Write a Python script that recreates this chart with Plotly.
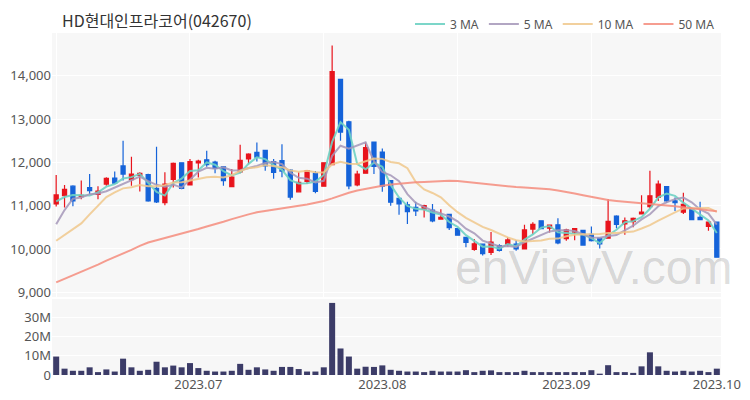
import pandas as pd
import plotly.graph_objects as go

# ---------------- data ----------------
holidays = ["2023-08-15", "2023-09-28", "2023-09-29", "2023-10-02", "2023-10-03"]
dates = [d.strftime("%Y-%m-%d") for d in pd.bdate_range("2023-06-08", "2023-10-04", freq="C", holidays=holidays)]

opens = [11040, 11230, 11450, 11210, 11420, 11260, 11500, 11640, 11920, 11600,
         11700, 11720, 11400, 11070, 11610, 11990, 11480, 11990, 12060, 12010,
         11900, 11440, 11780, 12080, 12230, 12280, 12020, 12040, 11820, 11320,
         11560, 11750, 11450, 11950, 13920, 12940, 11480, 11750, 12470, 12240,
         11580, 11170, 11020, 10960, 10920, 10900, 10690, 10800, 10470, 10270,
         9990, 10110, 9920, 10080, 10110, 10110, 10000, 10460, 10650, 10480,
         10560, 10240, 10390, 10430, 10340, 10250, 10250, 10760, 10580, 10630,
         10810, 10980, 11190, 11440, 11110, 10850, 10920, 10730, 10520, 10620]
highs = [11710, 11480, 11470, 11580, 11730, 11450, 11660, 11790, 12500, 12130,
         11770, 11740, 12360, 11770, 12000, 12000, 12080, 12060, 12270, 12040,
         11920, 11850, 12410, 12210, 12460, 12290, 12080, 12420, 11840, 11770,
         11820, 11800, 12000, 14700, 13930, 12960, 11810, 12460, 12480, 12320,
         11590, 11180, 11090, 11090, 11020, 11040, 10920, 10810, 10480, 10270,
         10230, 10120, 10390, 10110, 10270, 10210, 10560, 10620, 10660, 10560,
         10710, 10470, 10480, 10440, 10520, 10260, 11150, 10780, 10730, 10730,
         11240, 11810, 11580, 11450, 11190, 11300, 10930, 11090, 10630, 10630]
lows = [10980, 10960, 10990, 11150, 11270, 11150, 11460, 11500, 11580, 11460,
        11330, 11090, 11060, 11010, 11420, 11380, 11470, 11650, 11900, 11750,
        11460, 11430, 11750, 11960, 12020, 11810, 11620, 11660, 11140, 11310,
        11500, 11290, 11440, 11940, 12500, 11380, 11450, 11740, 11730, 11320,
        11000, 10790, 10580, 10760, 10730, 10620, 10680, 10440, 10310, 10040,
        9960, 9850, 9860, 9940, 10060, 9960, 9990, 10340, 10460, 10380,
        10110, 10190, 10200, 10080, 10170, 10010, 10240, 10480, 10330, 10500,
        10800, 10930, 11110, 11070, 10880, 10810, 10670, 10680, 10420, 9800]
closes = [11250, 11380, 11110, 11240, 11350, 11340, 11630, 11520, 11730, 11730,
          11750, 11110, 11090, 11500, 11980, 11400, 12020, 12030, 11950, 11860,
          11580, 11660, 12050, 12190, 12120, 11920, 11770, 11800, 11200, 11540,
          11810, 11330, 11990, 14100, 12700, 11460, 11730, 12340, 11910, 11450,
          11080, 11040, 10860, 10880, 11000, 10650, 10730, 10490, 10320, 10150,
          10120, 9890, 10160, 9970, 10210, 10000, 10440, 10570, 10470, 10550,
          10140, 10440, 10470, 10090, 10190, 10120, 10640, 10570, 10650, 10710,
          10850, 11230, 11500, 11110, 11070, 11030, 10680, 10680, 10620, 9810]
volumes_m = [9.6, 3.3, 2.2, 2.2, 4.0, 1.5, 2.9, 1.8, 8.5, 4.0,
             2.2, 2.7, 6.9, 4.0, 4.9, 4.0, 6.2, 3.6, 2.2, 1.8,
             1.8, 2.2, 5.8, 2.7, 4.0, 2.9, 2.2, 4.2, 4.2, 3.1,
             1.8, 1.8, 4.0, 37.5, 13.8, 9.6, 3.3, 4.3, 4.2, 5.0,
             2.7, 2.2, 1.8, 1.8, 1.5, 2.2, 1.8, 1.8, 1.8, 2.5,
             1.5, 2.2, 2.4, 1.5, 1.5, 1.5, 2.2, 1.5, 1.5, 1.5,
             1.5, 1.5, 1.5, 1.5, 2.5, 0.7, 5.1, 1.5, 1.5, 1.1,
             4.5, 11.8, 4.5, 2.2, 1.8, 2.2, 1.8, 2.2, 1.5, 3.3]

# moving-average values at the start of the window (need earlier data)
ma3_head = [11100, 11200]
ma5_head = [10570, 10900, 11160, 11190]
ma10_head = [10190, 10330, 10460, 10590, 10800, 11000, 11200, 11310, 11400]
ma50 = [9230, 9310, 9390, 9480, 9560, 9640, 9730, 9810, 9900, 9980,
        10070, 10150, 10200, 10250, 10300, 10350, 10410, 10460, 10520, 10570,
        10630, 10690, 10750, 10800, 10850, 10880, 10910, 10930, 10960, 10990,
        11030, 11070, 11110, 11170, 11240, 11300, 11350, 11390, 11430, 11460,
        11490, 11510, 11525, 11540, 11550, 11560, 11570, 11575, 11570, 11550,
        11525, 11495, 11475, 11460, 11445, 11430, 11420, 11410, 11400, 11380,
        11350, 11320, 11280, 11240, 11200, 11160, 11130, 11110, 11095, 11080,
        11065, 11050, 11030, 11005, 10985, 10960, 10935, 10910, 10890, 10870]

month_tick_dates = ["2023-07-03", "2023-08-02", "2023-09-04", "2023-10-04"]
month_tick_text = ["2023.07", "2023.08", "2023.09", "2023.10"]
price_ticks = [9000, 10000, 11000, 12000, 13000, 14000]
vol_ticks = [0, 10_000_000, 20_000_000, 30_000_000]
vol_tick_text = ["0", "10M", "20M", "30M"]

# ---------------- derived ----------------
c = pd.Series(closes, dtype=float)


def ma(n, head):
    s = c.rolling(n).mean()
    s.iloc[:len(head)] = head
    return s.tolist()


ma3 = ma(3, ma3_head)
ma5 = ma(5, ma5_head)
ma10 = ma(10, ma10_head)
volumes = [v * 1e6 for v in volumes_m]

RED = "#e8141c"
BLUE = "#1563d9"
FONT = "Noto Sans"
TICKFONT = dict(family=FONT, size=13, color="#555555")

fig = go.Figure()
fig.add_trace(go.Candlestick(
    x=dates, open=opens, high=highs, low=lows, close=closes,
    increasing=dict(line=dict(color=RED, width=1.2), fillcolor=RED),
    decreasing=dict(line=dict(color=BLUE, width=1.2), fillcolor=BLUE),
    whiskerwidth=0, showlegend=False, hoverinfo="skip",
    xaxis="x", yaxis="y"))

for name, vals, col in [("3 MA", ma3, "rgba(110,210,195,0.9)"),
                        ("5 MA", ma5, "rgba(165,150,185,0.85)"),
                        ("10 MA", ma10, "rgba(240,200,140,0.85)"),
                        ("50 MA", ma50, "rgba(245,140,125,0.85)")]:
    fig.add_trace(go.Scatter(x=dates, y=vals, mode="lines", name=name,
                             line=dict(color=col, width=2), hoverinfo="skip",
                             xaxis="x", yaxis="y"))

fig.add_trace(go.Bar(x=dates, y=volumes, marker=dict(color="#3c3c68", line=dict(width=0)),
                     showlegend=False, hoverinfo="skip", xaxis="x2", yaxis="y2"))

fig.update_layout(
    width=750, height=400,
    margin=dict(l=52, r=29, t=33, b=25, autoexpand=False),
    paper_bgcolor="white", plot_bgcolor="#f7f7f7",
    bargap=0.28,
    hovermode=False,
    title=dict(text="HD현대인프라코어(042670)", x=62 / 750, xanchor="left",
               y=1 - 21 / 400, yanchor="middle", pad=dict(l=0, r=0, t=0, b=0),
               font=dict(family="Noto Sans CJK KR", size=16, color="#333333")),
    legend=dict(orientation="h", x=720 / 750, xanchor="right", xref="container",
                y=1 - 24 / 400, yanchor="middle", yref="container",
                font=dict(family=FONT, size=12, color="#555555"),
                bgcolor="rgba(0,0,0,0)", itemwidth=30),
    xaxis=dict(type="category", domain=[0, 1], anchor="y", range=[-0.5, len(dates) - 0.5],
               tickvals=dates[::16], showticklabels=False, showgrid=True,
               gridcolor="#ffffff", gridwidth=1, rangeslider=dict(visible=False),
               zeroline=False, showline=False, ticks="", automargin=False),
    yaxis=dict(domain=[0.228, 1], anchor="x", range=[8890, 14990], tickvals=price_ticks,
               tickformat=",", showgrid=True, gridcolor="#ffffff", gridwidth=1,
               zeroline=False, ticks="", tickfont=TICKFONT, automargin=False),
    xaxis2=dict(type="category", domain=[0, 1], anchor="y2", matches="x",
                tickvals=month_tick_dates, ticktext=month_tick_text, showgrid=False,
                zeroline=False, showline=False, ticks="", tickfont=TICKFONT, automargin=False),
    yaxis2=dict(domain=[0, 0.222], anchor="x2", range=[0, 39_500_000], tickvals=vol_ticks,
                ticktext=vol_tick_text, showgrid=True, gridcolor="#ffffff", gridwidth=1,
                zeroline=False, ticks="", tickfont=TICKFONT, automargin=False),
    annotations=[dict(text="enVievV.com", xref="paper", yref="paper", x=0.81, y=0.313,
                      xanchor="center", yanchor="middle", showarrow=False,
                      font=dict(family="Liberation Sans", size=48, color="rgba(0,0,0,0.15)"))],
)

fig.write_html("out.html", config={"displayModeBar": False, "staticPlot": True},
               post_script="document.body.style.margin='0';")
